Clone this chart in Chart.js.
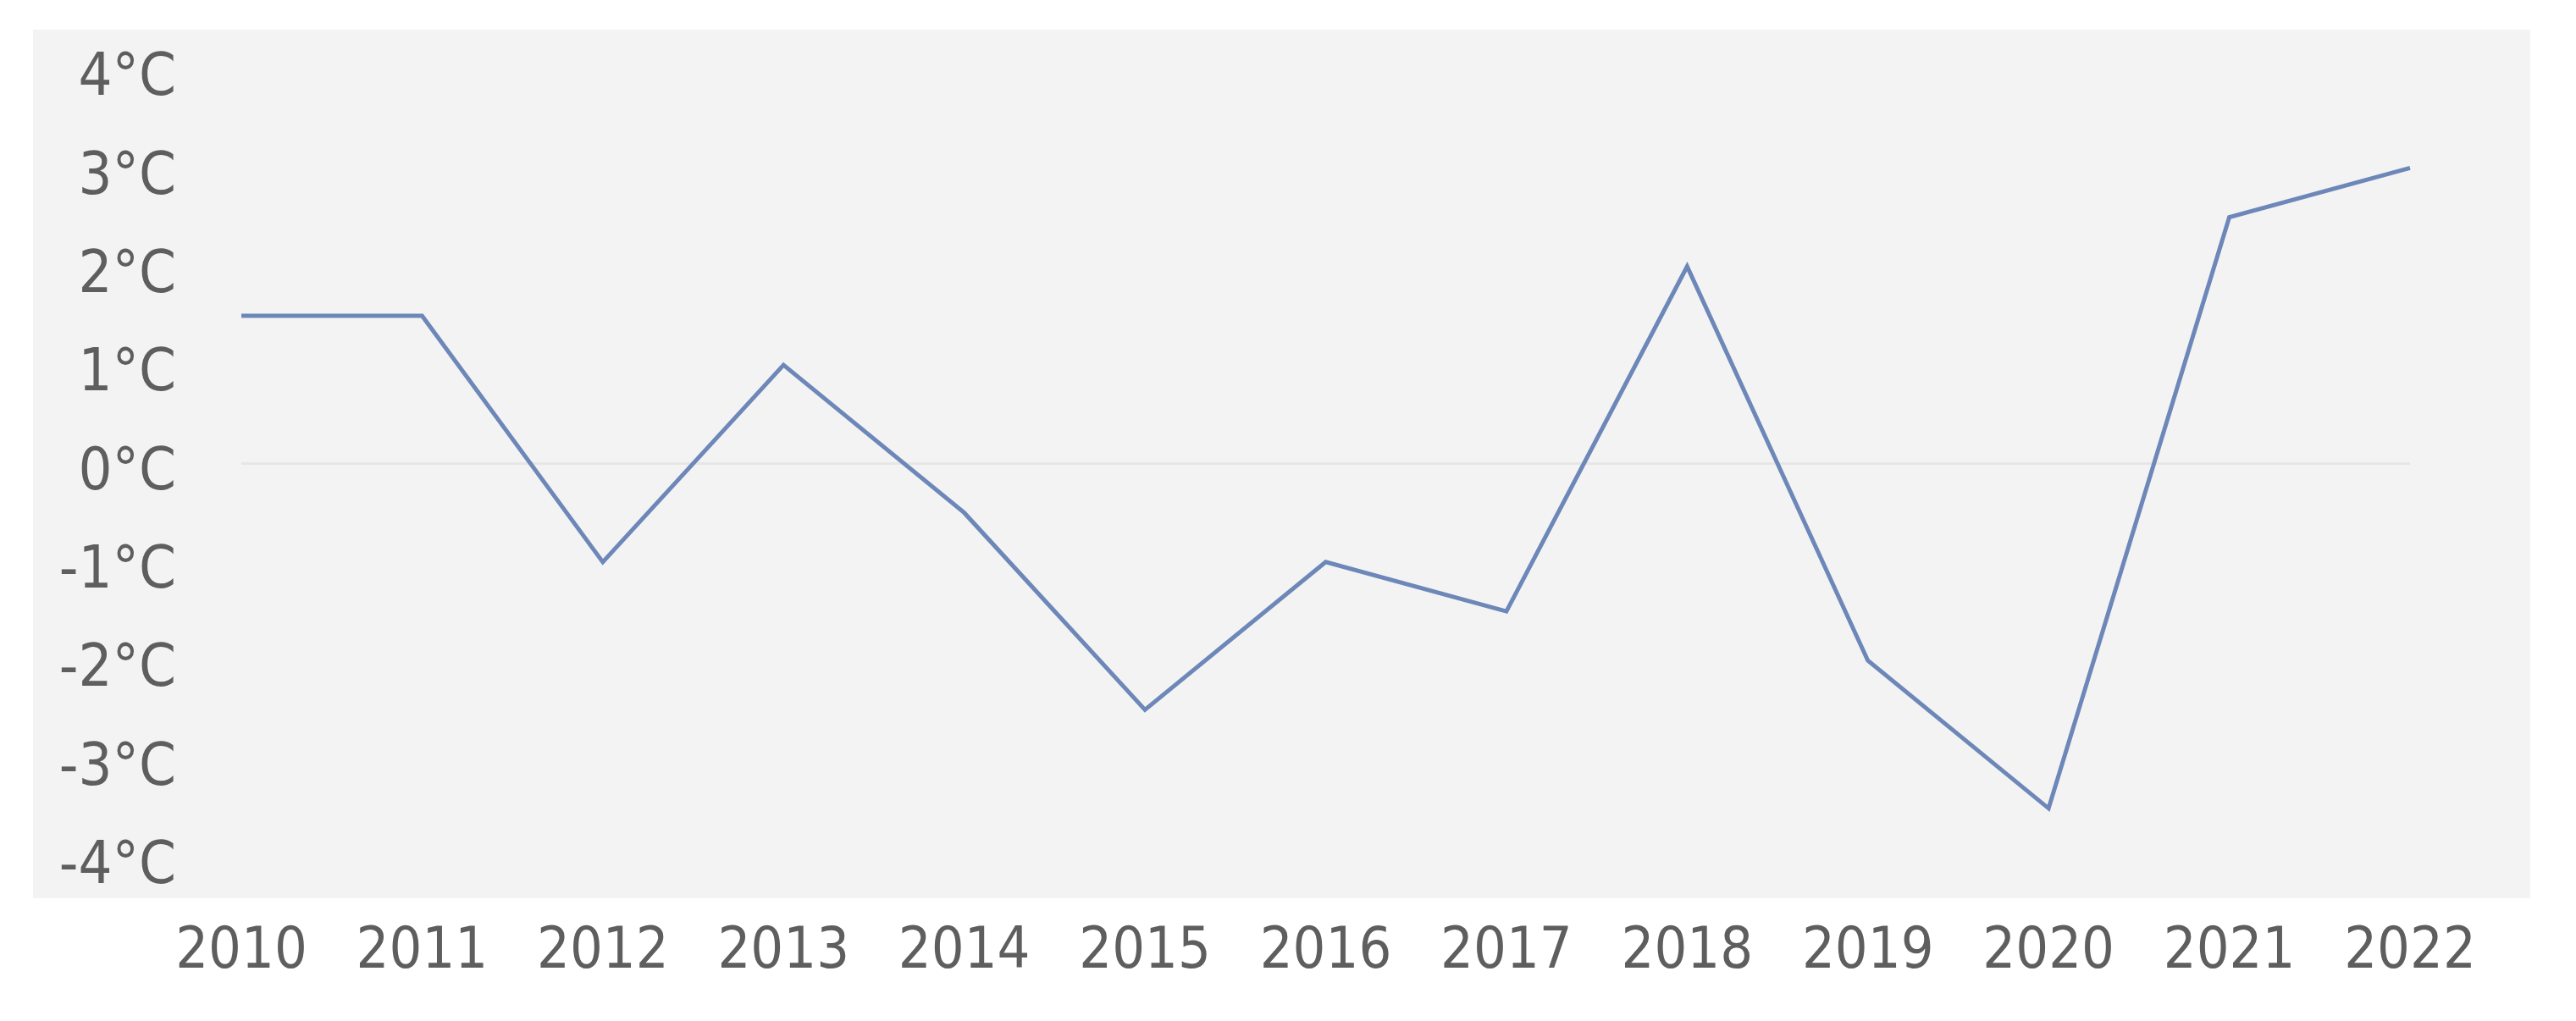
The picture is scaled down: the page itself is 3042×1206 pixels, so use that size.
<!DOCTYPE html>
<html>
<head>
<meta charset="utf-8">
<script src="https://cdn.jsdelivr.net/npm/chart.js@4/dist/chart.umd.min.js"></script>
<style>
  body { margin: 0; background: #ffffff; }
  #wrap { width: 3042px; height: 1206px; position: relative; }
</style>
</head>
<body>
<div id="wrap"><canvas id="chart"></canvas></div>
<script>
// Years on the x axis
const years = ["2010", "2011", "2012", "2013", "2014", "2015", "2016",
  "2017", "2018", "2019", "2020", "2021", "2022"];
// Temperature anomaly per year (°C)
const temps = [1.5, 1.5, -1, 1, -0.5, -2.5, -1, -1.5, 2, -2, -3.5, 2.5, 3];
// Y tick range
const yMin = -4;
const yMax = 4;

const FONT = "'Liberation Sans Narrow', 'DejaVu Sans Condensed', 'Noto Sans', sans-serif";

// gray panel behind the plot and y labels
const panelBg = {
  id: "panelBg",
  beforeDraw: (chart) => {
    const { ctx, chartArea } = chart;
    ctx.save();
    ctx.fillStyle = "#f3f3f3";
    ctx.fillRect(chartArea.left - 246, chartArea.top - 47,
      chartArea.right - chartArea.left + 388, chartArea.bottom - chartArea.top + 95);
    ctx.restore();
  },
};

const ctx = document.getElementById("chart").getContext("2d");
new Chart(ctx, {
  type: "line",
  data: {
    labels: years,
    datasets: [
      {
        data: temps,
        borderColor: "#6d87b8",
        borderWidth: 5,
        pointRadius: 0,
        tension: 0,
        fill: false,
      },
    ],
  },
  options: {
    responsive: true,
    maintainAspectRatio: false,
    animation: false,
    layout: { padding: { top: 82, right: 196, bottom: 0, left: 0 } },
    plugins: { legend: { display: false }, tooltip: { enabled: false } },
    scales: {
      x: {
        offset: false,
        grid: { display: false, drawTicks: false },
        border: { display: false },
        ticks: {
          color: "#5e5e5e",
          font: { family: FONT, size: 68 },
          padding: 72,
          maxRotation: 0,
          autoSkip: false,
        },
        afterFit: (scale) => { scale.height = 193; },
      },
      y: {
        min: yMin,
        max: yMax,
        grid: {
          drawTicks: false,
          lineWidth: 3,
          color: (c) => (c.tick && c.tick.value === 0 ? "#e6e6e6" : "transparent"),
        },
        border: { display: false },
        ticks: {
          stepSize: 1,
          color: "#5e5e5e",
          // small line height + empty first line nudges labels a bit lower
          font: { family: FONT, size: 70, lineHeight: "24px" },
          padding: 77,
          callback: (v) => ["", v + "°C"],
        },
        afterFit: (scale) => {
          scale.width = 285;
          scale.paddingTop = 0;
          scale.paddingBottom = 0;
        },
      },
    },
  },
  plugins: [panelBg],
});
</script>
</body>
</html>
